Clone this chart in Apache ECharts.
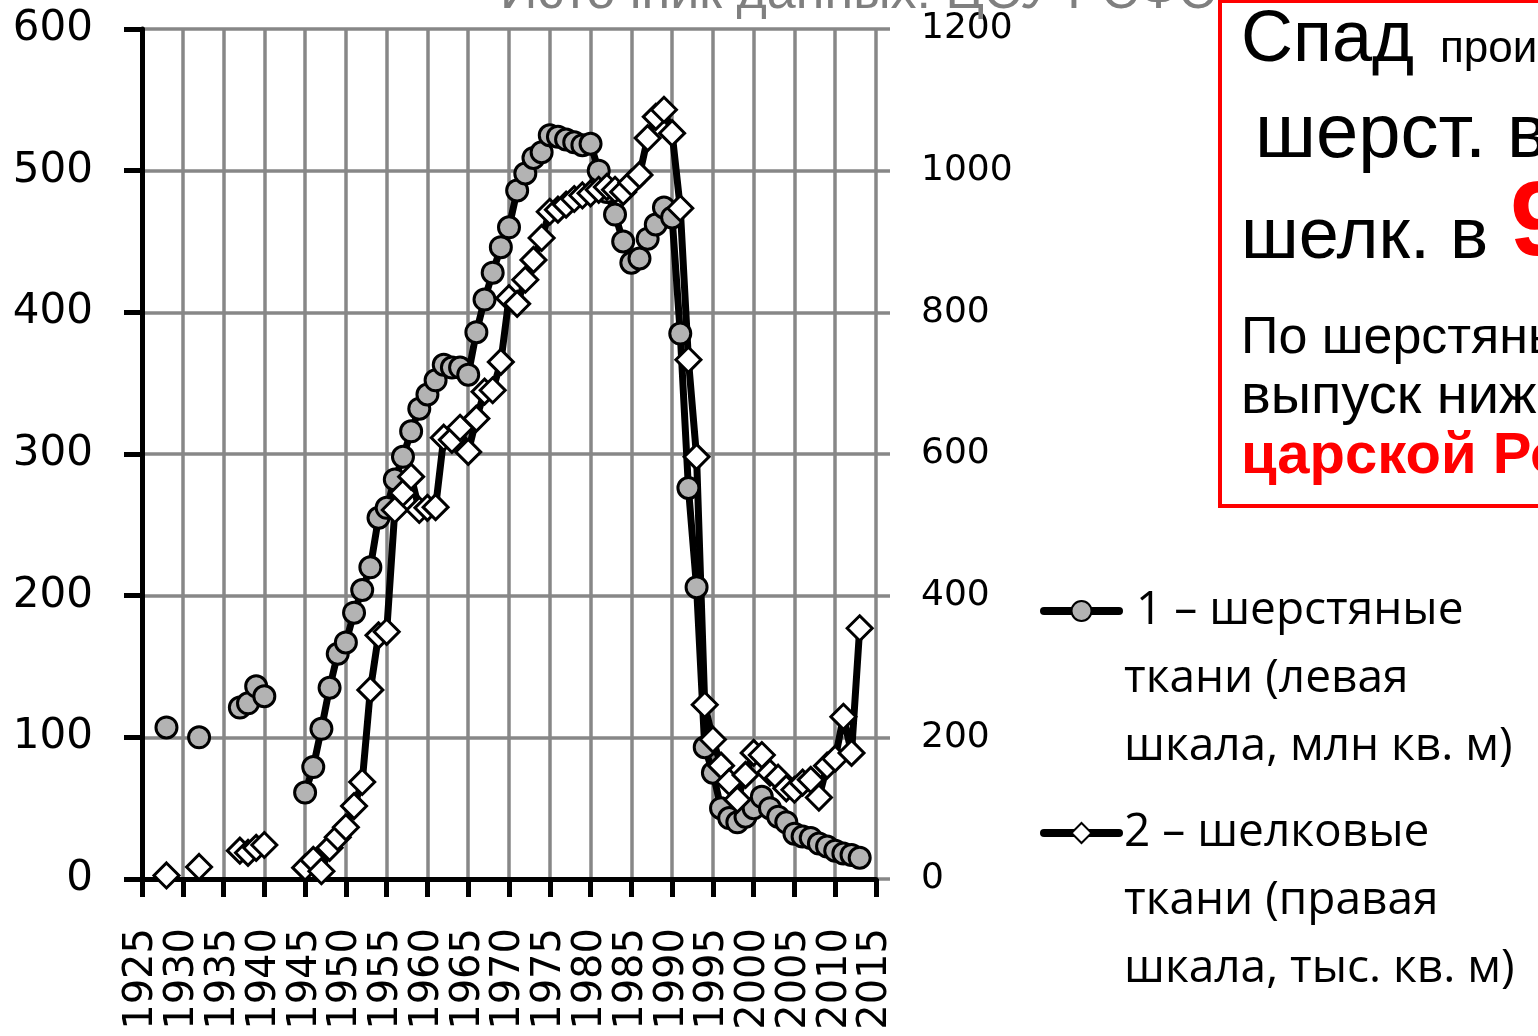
<!DOCTYPE html>
<html>
<head>
<meta charset="utf-8">
<title>Шерстяные и шелковые ткани</title>
<script src="https://cdn.jsdelivr.net/npm/echarts@6/dist/echarts.min.js"></script>
<style>
	html, body {margin: 0; padding: 0; background: #fff;}
	#chart {width: 1538px; height: 1036px;}
</style>
</head>
<body>
<div id="chart"></div>
<script>
	// годы (пропуски = нет данных)
	var years = [1928, 1929, 1930, 1931, 1932, 1933, 1934, 1935, 1936, 1937, 1938, 1939, 1940, 1941, 1942, 1943, 1944,
		1945, 1946, 1947, 1948, 1949, 1950, 1951, 1952, 1953, 1954,
		1955, 1956, 1957, 1958, 1959, 1960, 1961, 1962, 1963, 1964,
		1965, 1966, 1967, 1968, 1969, 1970, 1971, 1972, 1973, 1974,
		1975, 1976, 1977, 1978, 1979, 1980, 1981, 1982, 1983, 1984,
		1985, 1986, 1987, 1988, 1989, 1990, 1991, 1992, 1993, 1994,
		1995, 1996, 1997, 1998, 1999, 2000, 2001, 2002, 2003, 2004,
		2005, 2006, 2007, 2008, 2009, 2010, 2011, 2012, 2013];
	// 1 - шерстяные ткани, млн кв. м (левая шкала)
	var woolValues = [107, null, null, null, 100, null, null, null, null, 121, 124, 136, 129, null, null, null, null,
		61, 79, 106, 135, 159, 167, 188, 204, 220, 255,
		262, 282, 298, 316, 332, 342, 352, 363, 361, 361,
		356, 386, 409, 428, 446, 460, 486, 498, 509, 513,
		525, 524, 522, 520, 518, 519, 500, 485, 469, 450,
		435, 438, 452, 462, 474, 467, 385, 276, 206, 93,
		75, 50, 43, 40, 44, 50, 58, 50, 44, 40,
		32, 30, 29, 25, 23, 20, 18, 17, 15];
	// 2 - шелковые ткани, тыс. кв. м (правая шкала)
	var silkValues = [5, null, null, null, 17, null, null, null, null, 40, 37, 44, 48, null, null, null, null,
		16, 27, 11, 44, 59, 73, 103, 137, 267, 344,
		349, 521, 545, 568, 521, 524, 525, 623, 620, 637,
		603, 650, 688, 690, 730, 820, 812, 846, 874, 905,
		942, 945, 952, 960, 965, 968, 973, 977, 973, 970,
		983, 994, 1046, 1076, 1086, 1053, 947, 733, 596, 246,
		197, 160, 137, 112, 147, 178, 175, 150, 143, 128,
		126, 136, 140, 115, 160, 170, 229, 178, 354];
	var xRange = [1925, 2015, 5];
	var leftRange = [0, 600, 100];
	var rightRange = [0, 1200, 200];
	var woolName = ' 1 – шерстяные\nткани (левая\nшкала, млн кв. м)';
	var silkName = '2 – шелковые\nткани (правая\nшкала, тыс. кв. м)';

	var gridGray = '#878787';
	var axisFont = 'DejaVu Sans';
	var plain = function(v) { return String(v); };

	var woolData = years.map(function(y, i) { return [y, woolValues[i]]; });
	var silkData = years.map(function(y, i) { return [y, silkValues[i]]; });

	var myChart = echarts.init(document.getElementById('chart'));
	var legendText = {fontFamily: 'Open Sans', fontSize: 46, color: '#000', lineHeight: 68};
	// две пустые строки сверху, чтобы значок стоял у первой строки подписи
	var legendFmt = function(name) { return '\n\n' + name; };
	var option = {
		animation: false,
		backgroundColor: '#fff',
		grid: [
			{left: 142, top: 29, width: 748, height: 850, outerBoundsMode: 'none', containLabel: false},
			{left: 142, top: 29, width: 734, height: 850, outerBoundsMode: 'none', containLabel: false}
		],
		xAxis: [
			{gridIndex: 0, type: 'value', min: 0, max: 1, show: false},
			{
				gridIndex: 1, type: 'value', min: xRange[0], max: xRange[1], interval: xRange[2], z: 1,
				axisLine: {show: true, onZero: false, lineStyle: {color: '#000', width: 5}},
				axisTick: {show: true, length: 18, lineStyle: {color: '#000', width: 5}},
				axisLabel: {rotate: 90, margin: 49, color: '#000', fontFamily: axisFont, fontSize: 40,
					formatter: plain, showMinLabel: true, showMaxLabel: true},
				splitLine: {show: true, showMinLine: false, lineStyle: {color: gridGray, width: 3.5}}
			}
		],
		yAxis: [
			{
				gridIndex: 0, type: 'value', position: 'left', min: leftRange[0], max: leftRange[1], interval: leftRange[2], z: 0,
				axisLine: {show: true, lineStyle: {color: '#000', width: 5}},
				axisTick: {show: true, length: 18, lineStyle: {color: '#000', width: 5}},
				axisLabel: {margin: 49, color: '#000', fontFamily: axisFont, fontSize: 42, formatter: plain},
				splitLine: {show: true, lineStyle: {color: gridGray, width: 3.5}}
			},
			{
				gridIndex: 0, type: 'value', position: 'right', min: rightRange[0], max: rightRange[1], interval: rightRange[2],
				axisLine: {show: false}, axisTick: {show: false},
				axisLabel: {margin: 31, color: '#000', fontFamily: axisFont, fontSize: 36, formatter: plain},
				splitLine: {show: false}
			},
			{gridIndex: 1, type: 'value', min: leftRange[0], max: leftRange[1], show: false, splitLine: {show: false}},
			{gridIndex: 1, type: 'value', min: rightRange[0], max: rightRange[1], show: false, splitLine: {show: false}}
		],
		legend: [
			{data: [woolName], left: 1040, top: 441, padding: 0, orient: 'vertical', itemWidth: 75, itemHeight: 25,
				selectedMode: false, formatter: legendFmt, textStyle: legendText, lineStyle: {width: 8, cap: 'round'}},
			{data: [silkName], left: 1040, top: 663, padding: 0, orient: 'vertical', itemWidth: 75, itemHeight: 25,
				selectedMode: false, formatter: legendFmt, textStyle: legendText, lineStyle: {width: 8, cap: 'round'}}
		],
		series: [
			{
				name: woolName, type: 'line', xAxisIndex: 1, yAxisIndex: 2, data: woolData,
				symbol: 'circle', symbolSize: 21, showAllSymbol: true, connectNulls: false,
				lineStyle: {color: '#000', width: 7},
				itemStyle: {color: '#b3b3b3', borderColor: '#000', borderWidth: 3}
			},
			{
				name: silkName, type: 'line', xAxisIndex: 1, yAxisIndex: 3, data: silkData,
				symbol: 'diamond', symbolSize: 25, showAllSymbol: true, connectNulls: false,
				lineStyle: {color: '#000', width: 7},
				itemStyle: {color: '#fff', borderColor: '#000', borderWidth: 3}
			}
		],
		graphic: [
			{type: 'text', x: 500, y: -6, z: 5, style: {text: 'Источник данных: ЦСУ РСФСР, Росстат', font: '52px "Liberation Sans"', fill: '#7f7f7f', verticalAlign: 'middle'}},
			{type: 'rect', z: 10, shape: {x: 1220, y: 1, width: 340, height: 505}, style: {fill: '#fff', stroke: '#ff0000', lineWidth: 4}},
			{type: 'text', x: 1241, y: 41, z: 11, style: {text: 'Спад', font: '72px "Liberation Sans"', fill: '#000', verticalAlign: 'middle'}},
			{type: 'text', x: 1440, y: 50, z: 11, style: {text: 'производства', font: '44px "Liberation Sans"', fill: '#000', verticalAlign: 'middle'}},
			{type: 'text', x: 1255, y: 136, z: 11, style: {text: 'шерст. в', font: '76px "Liberation Sans"', fill: '#000', verticalAlign: 'middle'}},
			{type: 'text', x: 1241, y: 238, z: 11, style: {text: 'шелк. в', font: '72px "Liberation Sans"', fill: '#000', verticalAlign: 'middle'}},
			{type: 'text', x: 1510, y: 226, z: 11, style: {text: '9 раз', font: 'bold 106px "Liberation Sans"', fill: '#ff0000', verticalAlign: 'middle'}},
			{type: 'text', x: 1241, y: 339, z: 11, style: {text: 'По шерстяным тканям', font: '52px "Liberation Sans"', fill: '#000', verticalAlign: 'middle'}},
			{type: 'text', x: 1241, y: 398, z: 11, style: {text: 'выпуск ниже, чем в', font: '56px "Liberation Sans"', fill: '#000', verticalAlign: 'middle'}},
			{type: 'text', x: 1241, y: 457, z: 11, style: {text: 'царской России', font: 'bold 58px "Liberation Sans"', fill: '#ff0000', verticalAlign: 'middle'}}
		]
	};
	myChart.setOption(option);
</script>
</body>
</html>
